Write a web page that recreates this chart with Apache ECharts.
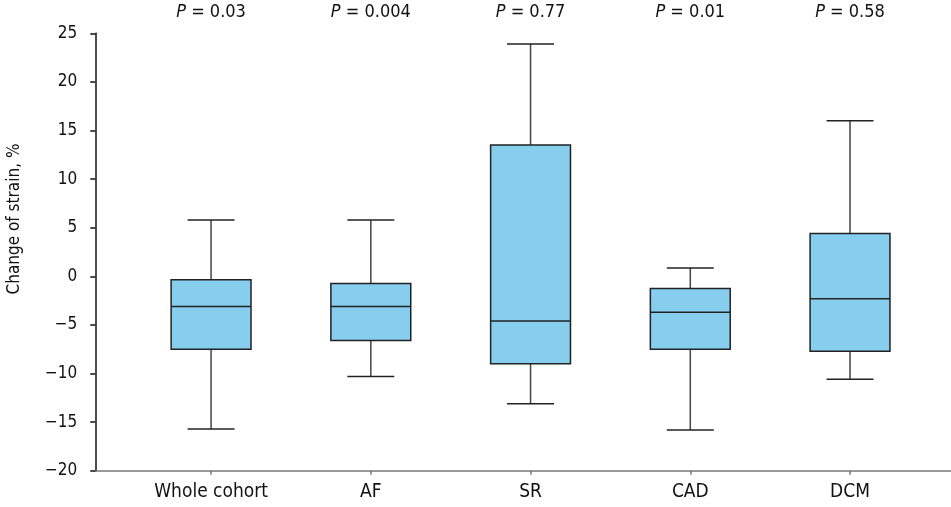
<!DOCTYPE html>
<html>
<head>
<meta charset="utf-8">
<script src="https://cdn.jsdelivr.net/npm/echarts@6/dist/echarts.min.js"></script>
<style>
  html, body { margin: 0; padding: 0; background: #fff; }
  #main { width: 951px; height: 507px; }
</style>
</head>
<body>
<div id="main"></div>
<script>
// 数据
var categories = ['Whole cohort', 'AF', 'SR', 'CAD', 'DCM'];
var pValues = ['0.03', '0.004', '0.77', '0.01', '0.58'];
// [下须, 下四分位, 中位数, 上四分位, 上须]
var lowWhisker = [-15.7, -10.3, -13.1, -15.8, -10.6];
var q1 = [-7.5, -6.6, -9.0, -7.5, -7.7];
var median = [-3.1, -3.1, -4.6, -3.7, -2.3];
var q3 = [-0.35, -0.75, 13.5, -1.25, 4.4];
var highWhisker = [5.8, 5.8, 23.9, 0.85, 16.0];

var FONT = '"Liberation Sans Narrow", "DejaVu Sans Condensed", "Liberation Sans", sans-serif';

var boxData = categories.map(function (c, i) {
  return [i, lowWhisker[i], q1[i], median[i], q3[i], highWhisker[i]];
});

var chart = echarts.init(document.getElementById('main'));

function renderBox(params, api) {
  var idx = api.value(0);
  var band = api.size([1, 0])[0];
  var boxHalf = band * 0.25;
  var capHalf = band * 0.147;
  var pLow = api.coord([idx, api.value(1)]);
  var pQ1 = api.coord([idx, api.value(2)]);
  var pMed = api.coord([idx, api.value(3)]);
  var pQ3 = api.coord([idx, api.value(4)]);
  var pHigh = api.coord([idx, api.value(5)]);
  var cx = pMed[0];
  var lineStyle = { stroke: '#222', lineWidth: 1.5, fill: null };
  return {
    type: 'group',
    children: [
      { type: 'line', shape: { x1: cx, y1: pHigh[1], x2: cx, y2: pQ3[1] }, style: { stroke: '#444', lineWidth: 1.5 } },
      { type: 'line', shape: { x1: cx, y1: pQ1[1], x2: cx, y2: pLow[1] }, style: { stroke: '#444', lineWidth: 1.5 } },
      { type: 'line', shape: { x1: cx - capHalf, y1: pHigh[1], x2: cx + capHalf, y2: pHigh[1] }, style: lineStyle },
      { type: 'line', shape: { x1: cx - capHalf, y1: pLow[1], x2: cx + capHalf, y2: pLow[1] }, style: lineStyle },
      {
        type: 'rect',
        shape: { x: cx - boxHalf, y: pQ3[1], width: boxHalf * 2, height: pQ1[1] - pQ3[1] },
        style: { fill: '#87CEEE', stroke: '#222', lineWidth: 1.5 }
      },
      { type: 'line', shape: { x1: cx - boxHalf, y1: pMed[1], x2: cx + boxHalf, y2: pMed[1] }, style: lineStyle }
    ]
  };
}

var option = {
  backgroundColor: '#fff',
  animation: false,
  grid: [
    { left: 95.3, right: 0, top: 33.3, bottom: 36.3, outerBoundsMode: 'none', containLabel: false },
    { left: 131.2, right: 21.1, top: 33.3, bottom: 36.3, outerBoundsMode: 'none', containLabel: false }
  ],
  xAxis: [
    {
      type: 'value', gridIndex: 0, min: 0, max: 1,
      axisLine: { show: true, onZero: false, lineStyle: { color: '#7a7a7a', width: 1.5 } },
      axisTick: { show: false }, axisLabel: { show: false }, splitLine: { show: false }
    },
    {
      type: 'category', gridIndex: 1, data: categories, boundaryGap: true,
      axisLine: { show: false, onZero: false },
      axisTick: { show: true, alignWithLabel: true, length: 4, lineStyle: { color: '#7a7a7a', width: 1.5 } },
      axisLabel: { color: '#111', fontSize: 19, fontFamily: FONT, margin: 12 },
      splitLine: { show: false }
    },
    {
      type: 'category', gridIndex: 1, position: 'top', data: pValues, boundaryGap: true,
      axisLine: { show: false, onZero: false }, axisTick: { show: false },
      axisLabel: {
        margin: 12,
        formatter: function (v) { return '{i|P} = ' + v; },
        color: '#111', fontSize: 18, fontFamily: FONT,
        rich: { i: { fontStyle: 'italic', fontSize: 18, fontFamily: FONT, color: '#111' } }
      }
    }
  ],
  yAxis: [
    {
      type: 'value', gridIndex: 0, min: -20, max: 25, interval: 5,
      name: 'Change of strain, %', nameLocation: 'middle', nameGap: 72, nameRotate: 90,
      nameTextStyle: { color: '#111', fontSize: 17, fontFamily: FONT, padding: [0, 0, 0, 66] },
      axisLine: { show: true, onZero: false, lineStyle: { color: '#111', width: 1.5 } },
      axisTick: { show: true, length: 5, lineStyle: { color: '#111', width: 1.5 } },
      axisLabel: {
        color: '#111', fontSize: 17, fontFamily: FONT, margin: 18,
        formatter: function (v) { return String(v).replace('-', '\u2212'); }
      },
      splitLine: { show: false }
    },
    {
      type: 'value', gridIndex: 1, min: -20, max: 25, interval: 5, show: false
    }
  ],
  series: [
    {
      type: 'custom',
      xAxisIndex: 1,
      yAxisIndex: 1,
      renderItem: renderBox,
      encode: { x: 0, y: [1, 2, 3, 4, 5] },
      data: boxData
    }
  ]
};
chart.setOption(option);
</script>
</body>
</html>
